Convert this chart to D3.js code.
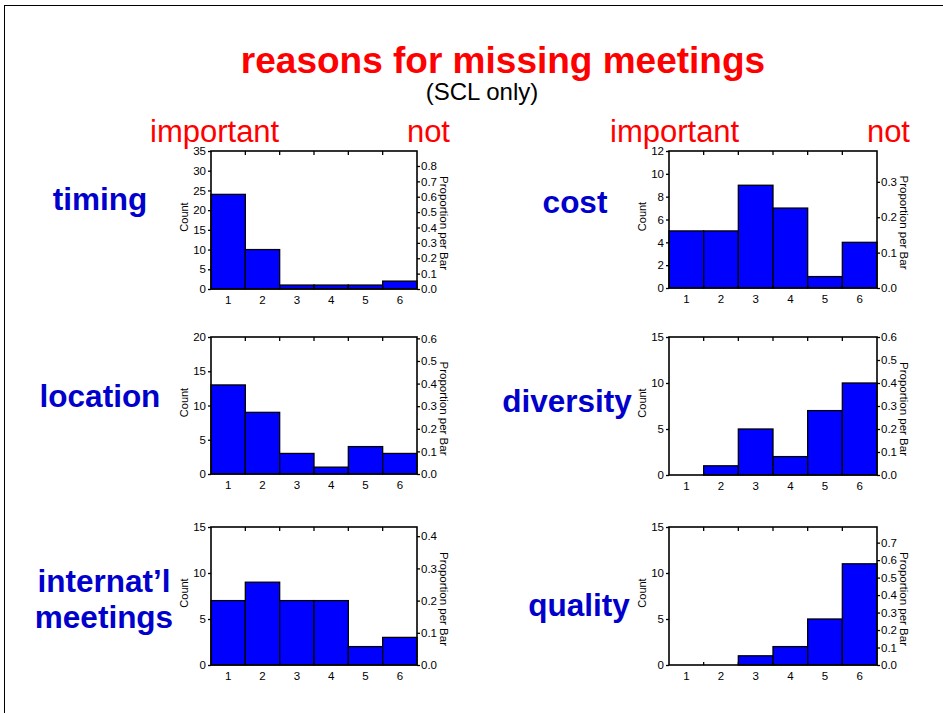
<!DOCTYPE html>
<html>
<head>
  <meta charset="utf-8">
  <style>
    body { margin: 0; background: white; }
    text { font-family: "Liberation Sans", Arial, sans-serif; }
  </style>
</head>
<body>
<svg id="chart" width="943" height="713"></svg>
<script src="https://cdn.jsdelivr.net/npm/d3@7"></script>
<script>
// data
const ratings = [1, 2, 3, 4, 5, 6];
const reasons = ["timing", "cost", "location", "diversity", "internat\u2019l meetings", "quality"];
const timingCounts = [24, 10, 1, 1, 1, 2];
const costCounts = [5, 5, 9, 7, 1, 4];
const locationCounts = [13, 9, 3, 1, 4, 3];
const diversityCounts = [0, 1, 5, 2, 7, 10];
const internatCounts = [7, 9, 7, 7, 2, 3];
const qualityCounts = [0, 0, 1, 2, 5, 11];
const countMax = [35, 12, 20, 15, 15, 15];
const countStep = [5, 2, 5, 5, 5, 5];
const propTickMax = [0.8, 0.3, 0.6, 0.6, 0.4, 0.7];

const allCounts = [timingCounts, costCounts, locationCounts, diversityCounts, internatCounts, qualityCounts];

// panel boxes and label spots
const panels = [
  { x0: 211, x1: 417, y0: 151, y1: 289, lx: 100, ly: 210 },
  { x0: 669, x1: 877, y0: 151, y1: 288, lx: 575, ly: 213 },
  { x0: 211, x1: 417, y0: 337, y1: 474, lx: 100, ly: 407 },
  { x0: 669, x1: 877, y0: 337, y1: 475, lx: 567, ly: 412 },
  { x0: 211, x1: 417, y0: 527, y1: 665, lx: 104, ly: 592 },
  { x0: 669, x1: 877, y0: 527, y1: 665, lx: 579, ly: 616 }
];

const svg = d3.select("#chart");

// slide border
svg.append("rect")
  .attr("x", 4.5).attr("y", 5.5)
  .attr("width", 1000).attr("height", 1000)
  .attr("fill", "none").attr("stroke", "black").attr("stroke-width", 1);

svg.append("text")
  .attr("x", 503).attr("y", 73)
  .attr("text-anchor", "middle")
  .attr("font-size", 37).attr("font-weight", "bold")
  .attr("fill", "#ff0000")
  .text("reasons for missing meetings");

svg.append("text")
  .attr("x", 482).attr("y", 100)
  .attr("text-anchor", "middle")
  .attr("font-size", 24)
  .attr("fill", "black")
  .text("(SCL only)");

[[150, 450], [610, 910]].forEach(([a, b]) => {
  svg.append("text").attr("x", a).attr("y", 142)
    .attr("font-size", 31).attr("fill", "#ff0000").text("important");
  svg.append("text").attr("x", b).attr("y", 142)
    .attr("text-anchor", "end")
    .attr("font-size", 31).attr("fill", "#ff0000").text("not");
});

panels.forEach((p, i) => {
  const counts = allCounts[i];
  const total = d3.sum(counts);
  const g = svg.append("g");

  let x = d3.scaleBand().domain(ratings).range([p.x0, p.x1]).padding(0);
  let y = d3.scaleLinear().domain([0, countMax[i]]).range([p.y1, p.y0]);
  let yProp = d3.scaleLinear().domain([0, countMax[i] / total]).range([p.y1, p.y0]);

  // bars
  g.selectAll("rect.bar")
    .data(counts)
    .enter()
    .append("rect")
    .attr("class", "bar")
    .attr("x", (d, j) => x(ratings[j]))
    .attr("y", d => y(d))
    .attr("width", x.bandwidth())
    .attr("height", d => p.y1 - y(d))
    .attr("fill", "#0000ff")
    .attr("stroke", "black")
    .attr("stroke-width", 1.3);

  // frame
  g.append("rect")
    .attr("x", p.x0).attr("y", p.y0)
    .attr("width", p.x1 - p.x0).attr("height", p.y1 - p.y0)
    .attr("fill", "none").attr("stroke", "black").attr("stroke-width", 1.6);

  // boundary ticks, top and bottom, pointing in
  const bounds = ratings.slice(1).map(r => x(r));
  g.selectAll("line.tt").data(bounds).enter().append("line")
    .attr("x1", d => d).attr("x2", d => d)
    .attr("y1", p.y0).attr("y2", p.y0 + 4)
    .attr("stroke", "black").attr("stroke-width", 1.3);
  g.selectAll("line.bt").data(bounds).enter().append("line")
    .attr("x1", d => d).attr("x2", d => d)
    .attr("y1", p.y1).attr("y2", p.y1 - 3)
    .attr("stroke", "black").attr("stroke-width", 1.3);

  const countTicks = d3.range(0, countMax[i] + 0.001, countStep[i]);
  const leftAxis = d3.axisLeft(y).tickValues(countTicks).tickSize(3).tickPadding(2).tickFormat(d3.format("d"));
  const propTicks = d3.range(0, Math.round(propTickMax[i] * 10) + 1).map(k => k / 10);
  const rightAxis = d3.axisRight(yProp).tickValues(propTicks).tickSize(3).tickPadding(1).tickFormat(d3.format(".1f"));
  const bottomAxis = d3.axisBottom(x).tickSize(0).tickPadding(7);

  g.append("g").attr("transform", `translate(${p.x0},0)`).call(leftAxis);
  g.append("g").attr("transform", `translate(${p.x1},0)`).call(rightAxis);
  g.append("g").attr("transform", `translate(0,${p.y1})`).call(bottomAxis);

  g.selectAll(".domain").remove();
  g.selectAll(".tick line").attr("stroke-width", 1.3);
  g.selectAll(".tick text")
    .attr("font-family", "'Liberation Sans', Arial, sans-serif")
    .attr("font-size", 11.5).attr("fill", "black");

  const cy = (p.y0 + p.y1) / 2;
  g.append("text")
    .attr("transform", `translate(${p.x0 - 23},${cy - 3}) rotate(-90)`)
    .attr("text-anchor", "middle")
    .attr("font-size", 11)
    .text("Count");
  g.append("text")
    .attr("transform", `translate(${p.x1 + 23},${cy + 3}) rotate(90)`)
    .attr("text-anchor", "middle")
    .attr("font-size", 11.5)
    .text("Proportion per Bar");

  // reason label
  const words = reasons[i].split(" ");
  const lab = g.append("text")
    .attr("x", p.lx).attr("y", p.ly)
    .attr("text-anchor", "middle")
    .attr("font-size", 31.5).attr("font-weight", "bold")
    .attr("fill", "#0000cc");
  words.forEach((w, k) => {
    lab.append("tspan").attr("x", p.lx).attr("dy", k === 0 ? 0 : 36).text(w);
  });
});
</script>
</body>
</html>
